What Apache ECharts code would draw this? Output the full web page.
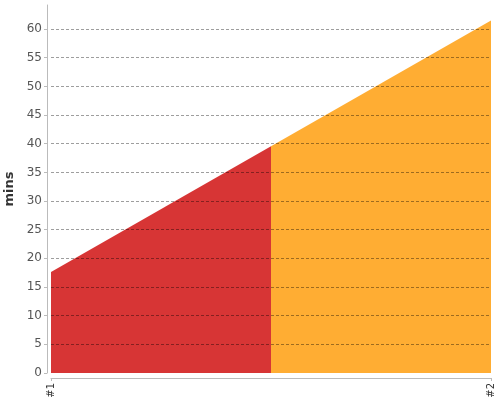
<!DOCTYPE html>
<html><head><meta charset="utf-8">
<script src="https://cdn.jsdelivr.net/npm/echarts@6/dist/echarts.min.js"></script>
<style>html,body{margin:0;padding:0;background:#fff}#c{width:500px;height:400px}</style>
</head><body><div id="c"></div>
<script>
const categories = ["#1", "#2"];
const categoryPositions = [0, 1];
const minsValues = [17.6, 61.5];
const splitAt = 0.5;
const sectionColors = ["#d73535", "#ffad33"];

const seriesData = categoryPositions.map((x, i) => [x, minsValues[i]]);

const chart = echarts.init(document.getElementById('c'), null, {renderer: 'canvas'});
chart.setOption({
  animation: false,
  textStyle: {fontFamily: 'DejaVu Sans'},
  grid: {left: 51, right: 9, top: 5, bottom: 27, containLabel: false, outerBoundsMode: 'none'},
  xAxis: {
    type: 'value', min: 0, max: 1, interval: 1, offset: 5,
    axisLine: {show: true, onZero: false, lineStyle: {color: '#bbb'}},
    axisTick: {show: true, length: 3, lineStyle: {color: '#bbb'}},
    axisLabel: {rotate: 90, color: '#333', fontSize: 10, margin: 5, fontFamily: 'DejaVu Sans',
      formatter: v => categories[Math.round(v)] ?? ''},
    splitLine: {show: false}
  },
  yAxis: {
    type: 'value', min: 0, max: 64.2, interval: 5, offset: 4, z: 5,
    name: 'mins', nameLocation: 'middle', nameGap: 29,
    nameTextStyle: {color: '#333', fontSize: 13, fontWeight: 'bold', fontFamily: 'DejaVu Sans'},
    axisLine: {show: true, onZero: false, lineStyle: {color: '#bbb'}},
    axisTick: {show: true, length: 3, lineStyle: {color: '#bbb'}},
    axisLabel: {color: '#555', fontSize: 12, margin: 5, fontFamily: 'DejaVu Sans',
      showMaxLabel: false},
    splitLine: {show: true, showMinLine: false, showMaxLine: false,
      lineStyle: {color: 'rgba(0,0,0,0.38)', type: [3, 2], width: 1}}
  },
  series: [{
    type: 'line', data: seriesData, showSymbol: false, symbol: 'none', z: 2,
    lineStyle: {width: 0},
    areaStyle: {
      opacity: 1,
      color: new echarts.graphic.LinearGradient(0, 0, 1, 0, [
        {offset: 0, color: sectionColors[0]},
        {offset: splitAt, color: sectionColors[0]},
        {offset: splitAt, color: sectionColors[1]},
        {offset: 1, color: sectionColors[1]}
      ])
    }
  }]
});
</script></body></html>
